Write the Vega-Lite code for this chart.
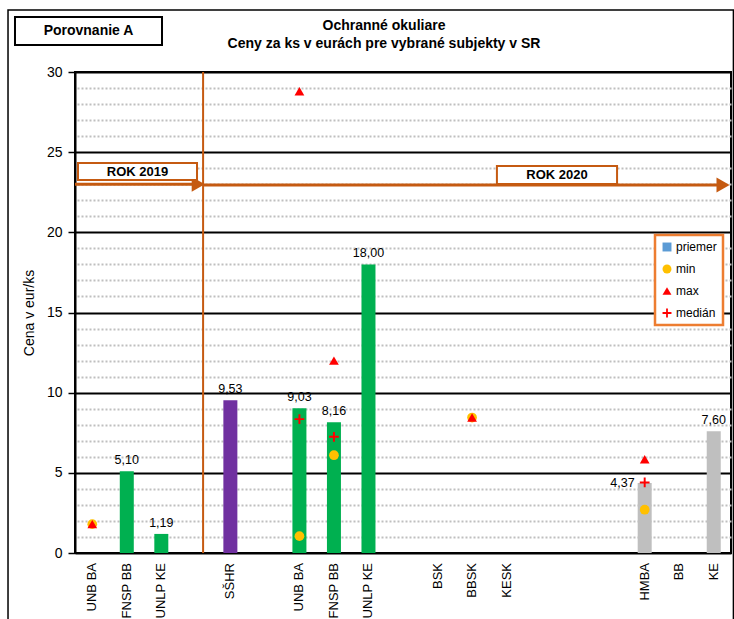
{
  "$schema": "https://vega.github.io/schema/vega-lite/v6.json",
  "width": 656,
  "height": 481,
  "autosize": "none",
  "padding": {"left": 75, "top": 72, "right": 3, "bottom": 66},
  "background": "white",
  "config": {
    "view": {"stroke": "black", "strokeWidth": 2},
    "font": "Liberation Sans",
    "legend": {"strokeWidth": 2.5},
    "locale": {"number": {"decimal": ",", "thousands": " ", "grouping": [3], "currency": ["", " €"]}}
  },
  "datasets": {
    "bars": [
      {"x": 1, "v": 5.10, "g": "green"},
      {"x": 2, "v": 1.19, "g": "green"},
      {"x": 4, "v": 9.53, "g": "purple"},
      {"x": 6, "v": 9.03, "g": "green"},
      {"x": 7, "v": 8.16, "g": "green"},
      {"x": 8, "v": 18.00, "g": "green"},
      {"x": 16, "v": 4.37, "g": "grey"},
      {"x": 18, "v": 7.60, "g": "grey"}
    ],
    "categories": [
      {"x": 0, "name": "UNB BA"},
      {"x": 1, "name": "FNSP BB"},
      {"x": 2, "name": "UNLP KE"},
      {"x": 4, "name": "SŠHR"},
      {"x": 6, "name": "UNB BA"},
      {"x": 7, "name": "FNSP BB"},
      {"x": 8, "name": "UNLP KE"},
      {"x": 10, "name": "BSK"},
      {"x": 11, "name": "BBSK"},
      {"x": 12, "name": "KESK"},
      {"x": 16, "name": "HMBA"},
      {"x": 17, "name": "BB"},
      {"x": 18, "name": "KE"}
    ],
    "points": [
      {"x": 0, "v": 1.8, "s": "min"},
      {"x": 0, "v": 1.8, "s": "max"},
      {"x": 6, "v": 1.05, "s": "min"},
      {"x": 6, "v": 28.8, "s": "max"},
      {"x": 6, "v": 8.35, "s": "medián"},
      {"x": 7, "v": 6.1, "s": "min"},
      {"x": 7, "v": 12.0, "s": "max"},
      {"x": 7, "v": 7.25, "s": "medián"},
      {"x": 11, "v": 8.45, "s": "min"},
      {"x": 11, "v": 8.45, "s": "max"},
      {"x": 16, "v": 2.7, "s": "min"},
      {"x": 16, "v": 5.85, "s": "max"},
      {"x": 16, "v": 4.4, "s": "medián"}
    ],
    "yearBoxes": [
      {"x": -0.413, "x2": 3.034, "y": 24.32, "y2": 23.26, "cx": 1.31, "cy": 23.79, "t": "ROK 2019"},
      {"x": 11.72, "x2": 15.2, "y": 24.14, "y2": 23.01, "cx": 13.46, "cy": 23.57, "t": "ROK 2020"}
    ],
    "arrows": [
      {"x": -0.5, "x2": 3.0, "y": 23.0, "hx": 3.07},
      {"x": 3.21, "x2": 18.2, "y": 22.95, "hx": 18.27}
    ],
    "titles": [
      {"cx": 8.45, "cy": 32.62, "t": "Ochranné okuliare"},
      {"cx": 8.45, "cy": 31.5, "t": "Ceny za ks v eurách pre vybrané subjekty v SR"}
    ],
    "badge": [
      {"x": -2.238, "x2": 2.02, "y": 33.43, "y2": 31.68, "cx": -0.109, "cy": 32.56, "t": "Porovnanie A"}
    ]
  },
  "layer": [
    {
      "data": {"values": [{"x": 3.21, "y": 0, "y2": 30}]},
      "mark": {"type": "rule", "color": "#C55A11", "strokeWidth": 2, "clip": false},
      "encoding": {
        "x": {"field": "x", "type": "quantitative", "scale": {"domain": [-0.5, 18.5], "nice": false, "zero": false, "padding": 0}, "axis": null},
        "y": {"field": "y", "type": "quantitative", "scale": {"domain": [0, 30], "nice": false},
          "axis": {"orient": "right", "values": [1,2,3,4,6,7,8,9,11,12,13,14,16,17,18,19,21,22,23,24,26,27,28,29],
            "grid": true, "gridDash": [2, 2], "gridColor": "#BFBFBF", "gridWidth": 2,
            "labels": false, "ticks": false, "domain": false, "title": null}},
        "y2": {"field": "y2"}
      }
    },
    {
      "data": {"name": "bars"},
      "mark": {"type": "bar", "size": 14, "clip": false},
      "encoding": {
        "x": {"field": "x", "type": "quantitative", "scale": {"domain": [-0.5, 18.5], "nice": false, "zero": false, "padding": 0}, "axis": null},
        "y": {"field": "v", "type": "quantitative", "scale": {"domain": [0, 30], "nice": false},
          "axis": {"values": [0,5,10,15,20,25,30], "grid": true, "gridColor": "black", "gridWidth": 2,
            "domain": true, "domainColor": "black", "domainWidth": 2, "ticks": true, "tickColor": "black",
            "tickSize": 7, "tickWidth": 1.5, "labelFontSize": 14, "labelColor": "black", "labelPadding": 6,
            "title": "Cena v eur/ks", "titleFontSize": 14, "titleFontWeight": "normal", "titleColor": "black",
            "titlePadding": 10}},
        "fill": {"field": "g", "type": "nominal", "legend": null,
          "scale": {"domain": ["green", "purple", "grey"], "range": ["#00B050", "#7030A0", "#BFBFBF"]}}
      }
    },
    {
      "data": {"name": "categories"},
      "mark": {"type": "text", "angle": 270, "align": "right", "baseline": "middle", "dx": -10, "fontSize": 13, "color": "black", "clip": false},
      "encoding": {
        "x": {"field": "x", "type": "quantitative", "axis": null},
        "y": {"datum": 0, "type": "quantitative", "axis": null},
        "text": {"field": "name"}
      }
    },
    {
      "data": {"name": "bars"},
      "transform": [{"filter": "datum.x != 16"}],
      "mark": {"type": "text", "baseline": "bottom", "dy": -4, "fontSize": 12.5, "color": "black", "clip": false},
      "encoding": {
        "x": {"field": "x", "type": "quantitative", "axis": null},
        "y": {"field": "v", "type": "quantitative", "axis": null},
        "text": {"field": "v", "type": "quantitative", "format": ".2f"}
      }
    },
    {
      "data": {"name": "bars"},
      "transform": [{"filter": "datum.x == 16"}],
      "mark": {"type": "text", "baseline": "middle", "align": "right", "dx": -10, "fontSize": 12.5, "color": "black", "clip": false},
      "encoding": {
        "x": {"field": "x", "type": "quantitative", "axis": null},
        "y": {"field": "v", "type": "quantitative", "axis": null},
        "text": {"field": "v", "type": "quantitative", "format": ".2f"}
      }
    },
    {
      "data": {"name": "points"},
      "mark": {"type": "point", "filled": true, "opacity": 1, "size": 95, "clip": false},
      "encoding": {
        "x": {"field": "x", "type": "quantitative", "axis": null},
        "y": {"field": "v", "type": "quantitative", "axis": null},
        "color": {"field": "s", "type": "nominal",
          "scale": {"domain": ["priemer", "min", "max", "medián"], "range": ["#5B9BD5", "#FFC000", "#FF0000", "#FF0000"]},
          "legend": {"title": null, "orient": "none", "legendX": 580, "legendY": 163,
            "strokeColor": "#ED7D31", "fillColor": "white", "padding": 6,
            "rowPadding": 10, "labelFontSize": 12, "labelColor": "black", "symbolSize": 80, "labelOffset": 3}},
        "shape": {"field": "s", "type": "nominal",
          "scale": {"domain": ["priemer", "min", "max", "medián"],
            "range": ["square", "circle", "triangle-up", "M-0.2,-1H0.2V-0.2H1V0.2H0.2V1H-0.2V0.2H-1V-0.2H-0.2Z"]}}
      }
    },
    {
      "data": {"name": "arrows"},
      "mark": {"type": "rule", "color": "#C55A11", "strokeWidth": 3, "clip": false},
      "encoding": {
        "x": {"field": "x", "type": "quantitative", "axis": null},
        "x2": {"field": "x2"},
        "y": {"field": "y", "type": "quantitative", "axis": null}
      }
    },
    {
      "data": {"name": "arrows"},
      "mark": {"type": "point", "shape": "triangle-right", "filled": true, "opacity": 1, "color": "#C55A11", "size": 230, "clip": false},
      "encoding": {
        "x": {"field": "hx", "type": "quantitative", "axis": null},
        "y": {"field": "y", "type": "quantitative", "axis": null}
      }
    },
    {
      "data": {"name": "yearBoxes"},
      "mark": {"type": "rect", "fill": "white", "stroke": "#C55A11", "strokeWidth": 2, "clip": false},
      "encoding": {
        "x": {"field": "x", "type": "quantitative", "axis": null},
        "x2": {"field": "x2"},
        "y": {"field": "y", "type": "quantitative", "axis": null},
        "y2": {"field": "y2"}
      }
    },
    {
      "data": {"name": "yearBoxes"},
      "mark": {"type": "text", "fontWeight": "bold", "fontSize": 13, "color": "black", "baseline": "middle", "clip": false},
      "encoding": {
        "x": {"field": "cx", "type": "quantitative", "axis": null},
        "y": {"field": "cy", "type": "quantitative", "axis": null},
        "text": {"field": "t"}
      }
    },
    {
      "data": {"name": "badge"},
      "mark": {"type": "rect", "fill": "white", "stroke": "black", "strokeWidth": 2, "clip": false},
      "encoding": {
        "x": {"field": "x", "type": "quantitative", "axis": null},
        "x2": {"field": "x2"},
        "y": {"field": "y", "type": "quantitative", "axis": null},
        "y2": {"field": "y2"}
      }
    },
    {
      "data": {"name": "badge"},
      "mark": {"type": "text", "fontWeight": "bold", "fontSize": 14, "color": "black", "baseline": "middle", "clip": false},
      "encoding": {
        "x": {"field": "cx", "type": "quantitative", "axis": null},
        "y": {"field": "cy", "type": "quantitative", "axis": null},
        "text": {"field": "t"}
      }
    },
    {
      "data": {"name": "titles"},
      "mark": {"type": "text", "fontWeight": "bold", "fontSize": 14, "color": "black", "baseline": "alphabetic", "clip": false},
      "encoding": {
        "x": {"field": "cx", "type": "quantitative", "axis": null},
        "y": {"field": "cy", "type": "quantitative", "axis": null},
        "text": {"field": "t"}
      }
    },
    {
      "data": {"values": [{"x": -2.44, "x2": 18.57, "y": 33.87, "y2": -4.3}]},
      "mark": {"type": "rect", "fillOpacity": 0, "stroke": "black", "strokeWidth": 1.5, "clip": false},
      "encoding": {
        "x": {"field": "x", "type": "quantitative", "axis": null},
        "x2": {"field": "x2"},
        "y": {"field": "y", "type": "quantitative", "axis": null},
        "y2": {"field": "y2"}
      }
    }
  ],
  "resolve": {"axis": {"y": "independent"}}
}
